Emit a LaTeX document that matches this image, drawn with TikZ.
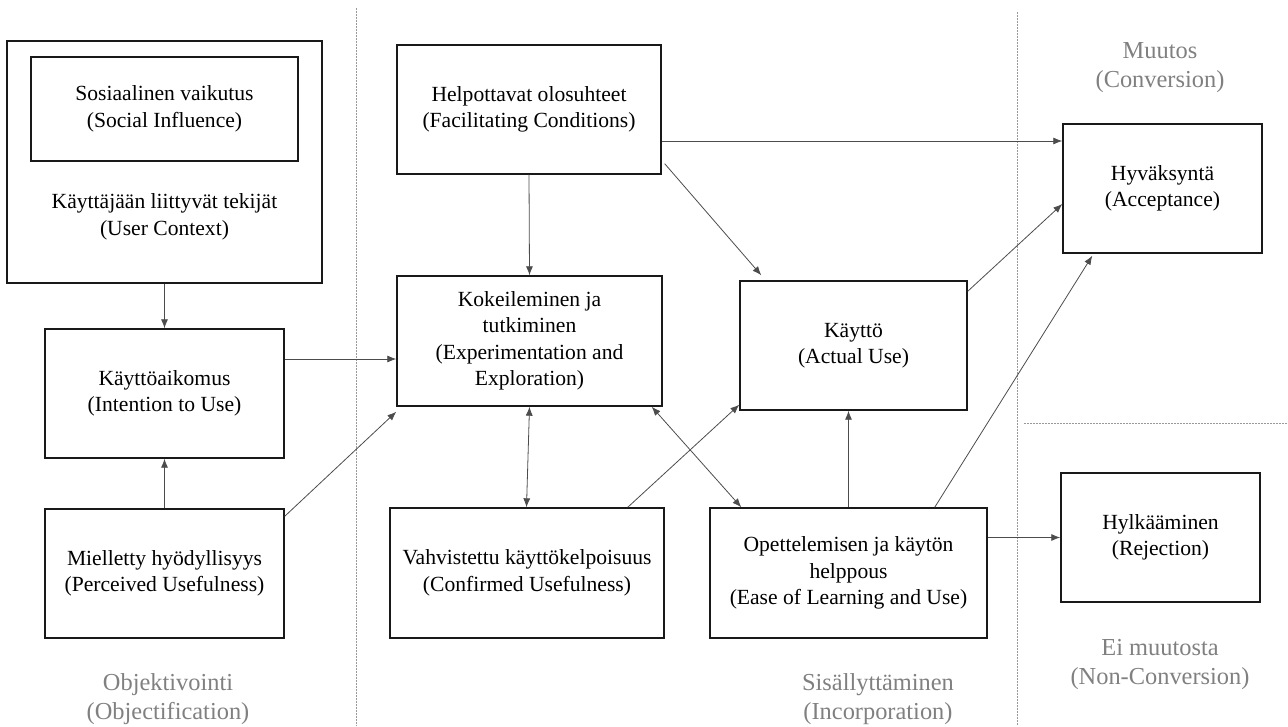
\documentclass[tikz,border=0pt]{standalone}
\usepackage{fontspec}
\setmainfont{Liberation Serif}
\usetikzlibrary{arrows.meta}
\begin{document}
\begin{tikzpicture}[x=1pt,y=-1pt,
  box/.style={draw=black!90, line width=1.4pt, align=center, inner sep=0pt, font=\fontsize{21.6}{26.5}\selectfont},
  lbl/.style={align=center, text=black!50, font=\fontsize{24.4}{29}\selectfont},
  arr/.style={draw=black!70, line width=0.8pt, -{Latex[length=9pt,width=7pt]}},
  darr/.style={draw=black!70, line width=0.8pt, {Latex[length=9pt,width=7pt]}-{Latex[length=9pt,width=7pt]}},
  sepline/.style={draw=black!40, line width=0.7pt, dash pattern=on 1.5pt off 1.5pt}]
\useasboundingbox (0,0) rectangle (1288,726);
% separators
\coordinate (v1t) at (356,8);
\coordinate (v1b) at (356,726);
\coordinate (v2t) at (1017,12);
\coordinate (v2b) at (1017,726);
\coordinate (h1l) at (1024,423);
\coordinate (h1r) at (1288,423);
\draw[sepline] (v1t) -- (v1b);
\draw[sepline] (v2t) -- (v2b);
\draw[sepline] (h1l) -- (h1r);
% boxes
\node[box, minimum width=315pt, minimum height=242pt] (uc) at (164.5,162) {};
\node[box, minimum width=267pt, minimum height=104pt] (si) at (164.5,109) {Sosiaalinen vaikutus\\(Social Influence)};
\node[align=center, inner sep=0pt, font=\fontsize{21.6}{26.5}\selectfont] (uct) at (164.5,217) {Käyttäjään liittyvät tekijät\\(User Context)};
\node[box, minimum width=239pt, minimum height=129pt] (int) at (164.5,393.5) {Käyttöaikomus\\(Intention to Use)};
\node[box, minimum width=239pt, minimum height=129pt] (per) at (164.5,573.5) {Mielletty hyödyllisyys\\(Perceived Usefulness)};
\node[box, minimum width=264pt, minimum height=129pt] (fac) at (529,109.5) {Helpottavat olosuhteet\\(Facilitating Conditions)};
\node[box, minimum width=265pt, minimum height=130pt] (kok) at (529.5,341) {Kokeileminen ja\\tutkiminen\\(Experimentation and\\Exploration)};
\node[box, minimum width=274pt, minimum height=130pt] (vah) at (527,573) {Vahvistettu käyttökelpoisuus\\(Confirmed Usefulness)};
\node[box, minimum width=277pt, minimum height=130pt] (ease) at (848.5,573) {Opettelemisen ja käytön\\helppous\\(Ease of Learning and Use)};
\node[box, minimum width=227pt, minimum height=129pt] (kay) at (853.5,345.5) {Käyttö\\(Actual Use)};
\node[box, minimum width=199pt, minimum height=129pt] (hyv) at (1162.5,188.5) {Hyväksyntä\\(Acceptance)};
\node[box, minimum width=199pt, minimum height=129pt] (hyl) at (1160.5,537.5) {Hylkääminen\\(Rejection)};
% labels
\node[lbl] (lobj) at (168,699) {Objektivointi\\(Objectification)};
\node[lbl] (linc) at (878,699) {Sisällyttäminen\\(Incorporation)};
\node[lbl] (lnon) at (1160,665) {Ei muutosta\\(Non-Conversion)};
\node[lbl] (lcon) at (1160,68) {Muutos\\(Conversion)};
% connectors
\draw[arr] (uc.south) -- (int.north);
\draw[arr] (per.north) -- (int.south);
\draw[arr] ([yshift=34.5pt]int.east) -- ([yshift=-18pt]kok.west);
\draw[arr] ([yshift=-8pt]per.north east) -- ([yshift=-5pt]kok.south west);
\draw[arr] (fac.south) -- (kok.north);
\draw[arr] ([yshift=-31.5pt]fac.east) -- ([yshift=47.5pt]hyv.west);
\draw[arr] ([xshift=3pt,yshift=11pt]fac.south east) -- ([xshift=22pt,yshift=5pt]kay.north west);
\draw[darr] (kok.south) -- ([xshift=-0.5pt]vah.north);
\draw[darr] ([xshift=-11pt]kok.south east) -- ([xshift=32pt]ease.north west);
\draw[arr] ([xshift=-37pt]vah.north east) -- ([yshift=6pt]kay.south west);
\draw[arr] (ease.north) -- (ease.north |- kay.south);
\draw[arr] ([xshift=-53pt]ease.north east) -- ([xshift=30pt,yshift=-2pt]hyv.south west);
\draw[arr] ([yshift=-11pt]kay.north east) -- ([yshift=-15.5pt]hyv.west);
\draw[arr] (ease.east |- hyl.west) -- (hyl.west);
\end{tikzpicture}
\end{document}
